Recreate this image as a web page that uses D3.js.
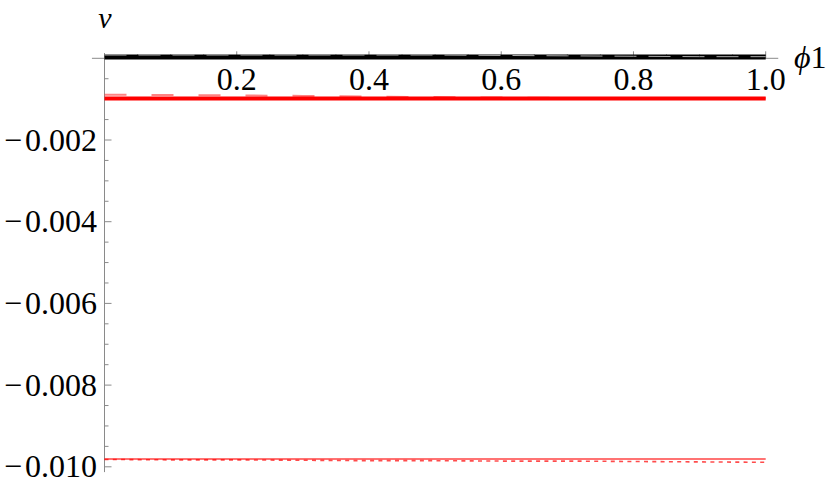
<!DOCTYPE html>
<html><head><meta charset="utf-8">
<script src="https://cdn.jsdelivr.net/npm/d3@7"></script>
<style>body{margin:0;background:#fff}svg{display:block}</style>
</head><body><svg id="c" width="830" height="484"></svg>
<script>
const xTicks = [0.2, 0.4, 0.6, 0.8, 1.0];
const yTicks = [-0.002, -0.004, -0.006, -0.008, -0.010];
const xs = [0, 0.1, 0.2, 0.3, 0.4, 0.5, 0.6, 0.7, 0.8, 0.9, 1.0];
const blackSolid  = [0.00003,0.00003,0.00003,0.00003,0.00003,0.00003,0.00003,0.00003,0.00003,0.00003,0.00003];
const blackDashed = [0.00008,0.00008,0.00008,0.00008,0.00008,0.00008,0.00007,0.00006,0.00005,0.00004,0.00004];
const redThick    = [-0.000985,-0.000985,-0.000985,-0.000985,-0.000985,-0.000985,-0.000985,-0.000985,-0.000985,-0.000985,-0.000985];
const redDashed   = [-0.00089,-0.00090,-0.00091,-0.00092,-0.00094,-0.00095,-0.00096,-0.00097,-0.00098,-0.00098,-0.00098];
const redThin     = [-0.00981,-0.00981,-0.00981,-0.00981,-0.00981,-0.00981,-0.00981,-0.00981,-0.00981,-0.00981,-0.00981];
const redDotted   = [-0.00982,-0.00983,-0.00983,-0.00984,-0.00985,-0.00985,-0.00986,-0.00986,-0.00987,-0.00988,-0.00989];

const FONT = "Liberation Serif";
const svg = d3.select("#c");
const x = d3.scaleLinear().domain([0,1]).range([104.5,765.7]);
const y = d3.scaleLinear().domain([0,-0.01]).range([58.3,466.8]);
const axisCol = "#8a8a8a";

svg.append("line").attr("x1",x(-0.019)).attr("x2",x(1.019)).attr("y1",y(0)).attr("y2",y(0)).attr("stroke",axisCol).attr("stroke-width",1);
svg.append("line").attr("x1",x(0)).attr("x2",x(0)).attr("y1",y(0.00013)).attr("y2",y(-0.01013)).attr("stroke",axisCol).attr("stroke-width",1);

const xMinor = d3.range(0.05,1.0001,0.05);
xMinor.forEach(v=>{
  const major = xTicks.some(t=>Math.abs(t-v)<1e-6);
  svg.append("line").attr("x1",x(v)).attr("x2",x(v)).attr("y1",y(0)).attr("y2",y(0)-(major?7:4)).attr("stroke",axisCol);
});
const yMinor = d3.range(-0.0005,-0.01001,-0.0005);
yMinor.forEach(v=>{
  const major = yTicks.some(t=>Math.abs(t-v)<1e-9);
  svg.append("line").attr("x1",x(0)).attr("x2",x(0)+(major?7:4)).attr("y1",y(v)).attr("y2",y(v)).attr("stroke",axisCol);
});

const line = arr => d3.line().x((d,i)=>x(xs[i])).y(d=>y(d))(arr);
svg.append("path").attr("d",line(redThin)).attr("fill","none").attr("stroke","#ff0000").attr("stroke-opacity",0.55).attr("stroke-width",2);
svg.append("path").attr("d",line(redDotted)).attr("fill","none").attr("stroke","#ff0000").attr("stroke-opacity",0.7).attr("stroke-width",1.6).attr("stroke-dasharray","4,4.3");
svg.append("path").attr("d",line(redDashed)).attr("fill","none").attr("stroke","#ff3030").attr("stroke-opacity",0.6).attr("stroke-width",2).attr("stroke-dasharray","22,25");
svg.append("path").attr("d",line(redThick)).attr("fill","none").attr("stroke","#ff0000").attr("stroke-width",4);
svg.append("path").attr("d",line(blackSolid)).attr("fill","none").attr("stroke","#000").attr("stroke-width",5);
svg.append("path").attr("d",line(blackDashed)).attr("fill","none").attr("stroke","#aaa").attr("stroke-width",1).attr("stroke-dasharray","22,12");

xTicks.forEach(t=>{
  svg.append("text").attr("x",x(t)).attr("y",89.5).attr("text-anchor","middle").attr("font-family",FONT).attr("font-size",32).text(d3.format(".1f")(t));
});
yTicks.forEach(t=>{
  const tx = svg.append("text").attr("x",97).attr("y",y(t)+10.5).attr("text-anchor","end").attr("font-family",FONT).attr("font-size",32);
  tx.append("tspan").text("\u2212");
  tx.append("tspan").attr("dx",3).text(d3.format(".3f")(Math.abs(t)));
});
svg.append("text").attr("x",105).attr("y",28).attr("text-anchor","middle").attr("font-family",FONT).attr("font-size",30).attr("font-style","italic").text("v");
const pl = svg.append("text").attr("x",794).attr("y",68).attr("font-family",FONT).attr("font-size",32);
pl.append("tspan").attr("font-style","italic").text("\u03D5");
pl.append("tspan").text("1");
</script></body></html>
